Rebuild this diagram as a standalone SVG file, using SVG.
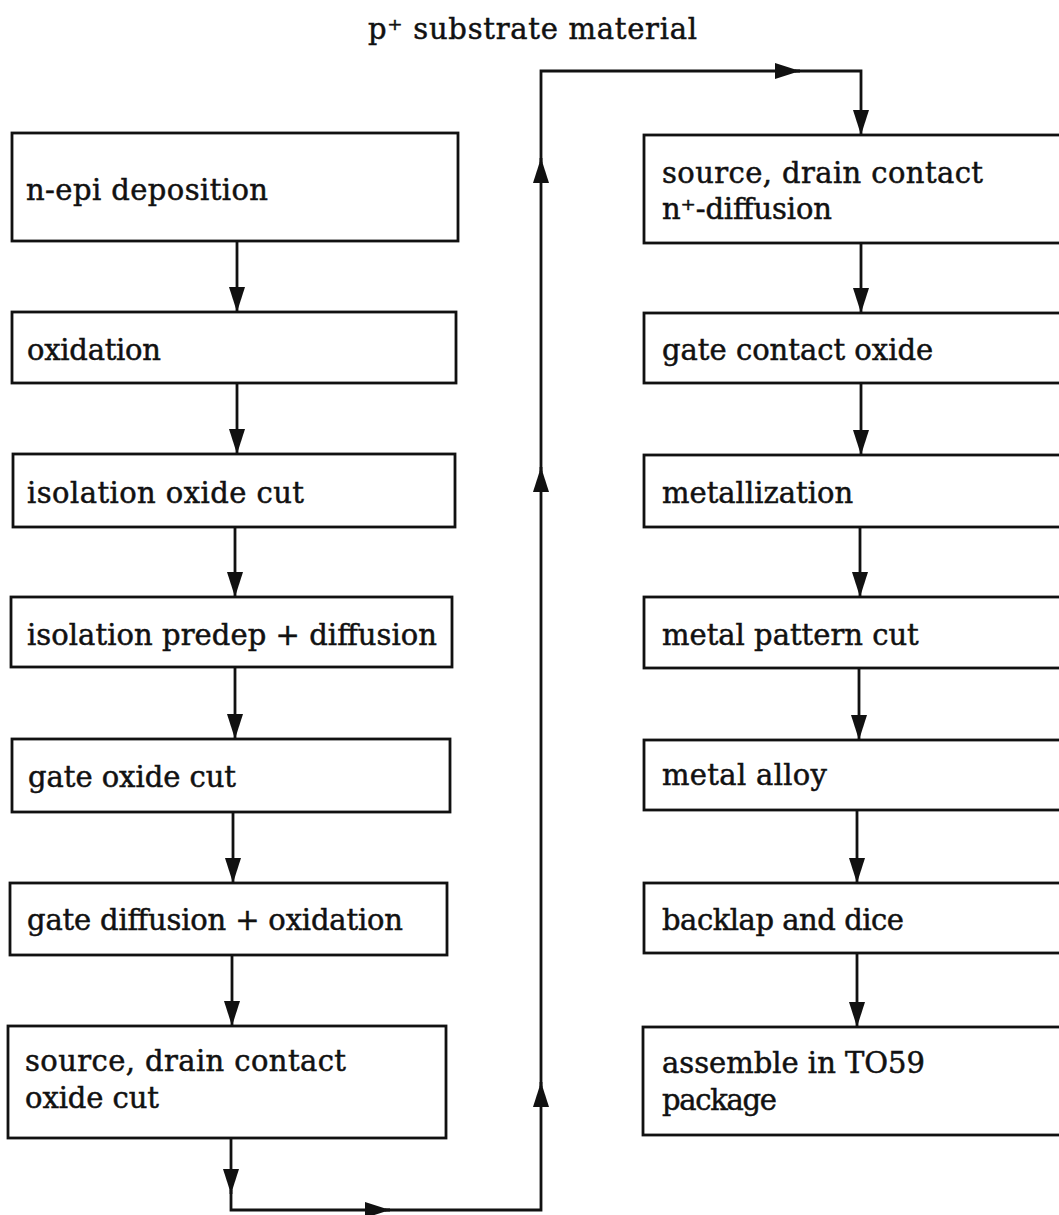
<svg xmlns="http://www.w3.org/2000/svg" width="1059" height="1215" viewBox="0 0 1059 1215">
<style>
.box{fill:none;stroke:#111;stroke-width:2.8}
.t{font-family:"DejaVu Serif","Liberation Serif",serif;font-size:29px;fill:#111;stroke:#111;stroke-width:0.5}
.c{fill:none;stroke:#111;stroke-width:2.8}
</style>
<defs>
<marker id="ah" markerUnits="userSpaceOnUse" markerWidth="26" markerHeight="18" refX="25" refY="8.5" orient="auto">
<path d="M0,0.5 L25,8.5 L0,16.5 Z" fill="#111"/>
</marker>
</defs>
<rect width="1059" height="1215" fill="#fff"/>
<text class="t" x="368" y="39" textLength="329" lengthAdjust="spacing">p⁺ substrate material</text>
<g id="n1"><rect class="box" x="12" y="133" width="446" height="108"/><text class="t" x="26" y="200" textLength="242" lengthAdjust="spacing">n-epi deposition</text></g>
<g id="n2"><rect class="box" x="12" y="312" width="444" height="71"/><text class="t" x="27" y="360" textLength="134" lengthAdjust="spacing">oxidation</text></g>
<g id="n3"><rect class="box" x="13" y="454" width="442" height="73"/><text class="t" x="27" y="503" textLength="277" lengthAdjust="spacing">isolation oxide cut</text></g>
<g id="n4"><rect class="box" x="11" y="597" width="441" height="70"/><text class="t" x="27" y="645" textLength="410" lengthAdjust="spacing">isolation predep + diffusion</text></g>
<g id="n5"><rect class="box" x="12" y="739" width="438" height="73"/><text class="t" x="28" y="787" textLength="208" lengthAdjust="spacing">gate oxide cut</text></g>
<g id="n6"><rect class="box" x="10" y="883" width="437" height="72"/><text class="t" x="27" y="930" textLength="376" lengthAdjust="spacing">gate diffusion + oxidation</text></g>
<g id="n7"><rect class="box" x="8" y="1026" width="438" height="112"/><text class="t"><tspan x="25" y="1071" textLength="321" lengthAdjust="spacing">source, drain contact</tspan><tspan x="25" y="1108" textLength="134" lengthAdjust="spacing">oxide cut</tspan></text></g>
<g id="m1"><rect class="box" x="644" y="135" width="430" height="108"/><text class="t"><tspan x="662" y="183" textLength="321" lengthAdjust="spacing">source, drain contact</tspan><tspan x="662" y="219" textLength="170" lengthAdjust="spacing">n⁺-diffusion</tspan></text></g>
<g id="m2"><rect class="box" x="644" y="313" width="430" height="70"/><text class="t" x="662" y="360">gate contact oxide</text></g>
<g id="m3"><rect class="box" x="644" y="455" width="430" height="72"/><text class="t" x="662" y="503">metallization</text></g>
<g id="m4"><rect class="box" x="644" y="597" width="430" height="71"/><text class="t" x="662" y="645">metal pattern cut</text></g>
<g id="m5"><rect class="box" x="644" y="740" width="430" height="70"/><text class="t" x="662" y="785" textLength="165" lengthAdjust="spacing">metal alloy</text></g>
<g id="m6"><rect class="box" x="644" y="883" width="430" height="70"/><text class="t" x="662" y="930" textLength="242" lengthAdjust="spacing">backlap and dice</text></g>
<g id="m7"><rect class="box" x="643" y="1027" width="431" height="108"/><text class="t"><tspan x="662" y="1073" textLength="263" lengthAdjust="spacing">assemble in TO59</tspan><tspan x="662" y="1110" textLength="115" lengthAdjust="spacing">package</tspan></text></g>
<g id="connectors">
<path class="c" marker-end="url(#ah)" d="M237,241 V312"/>
<path class="c" marker-end="url(#ah)" d="M237,383 V454"/>
<path class="c" marker-end="url(#ah)" d="M235,527 V597"/>
<path class="c" marker-end="url(#ah)" d="M235,667 V739"/>
<path class="c" marker-end="url(#ah)" d="M233,812 V883"/>
<path class="c" marker-end="url(#ah)" d="M232,955 V1026"/>
<path class="c" marker-end="url(#ah)" d="M231,1138 V1194"/>
<path class="c" marker-end="url(#ah)" d="M231,1190 V1210 H390"/>
<path class="c" marker-end="url(#ah)" d="M385,1210 H541 V1082"/>
<path class="c" marker-end="url(#ah)" d="M541,1087 V467"/>
<path class="c" marker-end="url(#ah)" d="M541,472 V158"/>
<path class="c" marker-end="url(#ah)" d="M541,163 V71 H800"/>
<path class="c" marker-end="url(#ah)" d="M795,71 H861 V135"/>
<path class="c" marker-end="url(#ah)" d="M861,243 V313"/>
<path class="c" marker-end="url(#ah)" d="M861,383 V455"/>
<path class="c" marker-end="url(#ah)" d="M860,527 V597"/>
<path class="c" marker-end="url(#ah)" d="M859,668 V740"/>
<path class="c" marker-end="url(#ah)" d="M857,810 V883"/>
<path class="c" marker-end="url(#ah)" d="M857,953 V1027"/>
</g>
</svg>
